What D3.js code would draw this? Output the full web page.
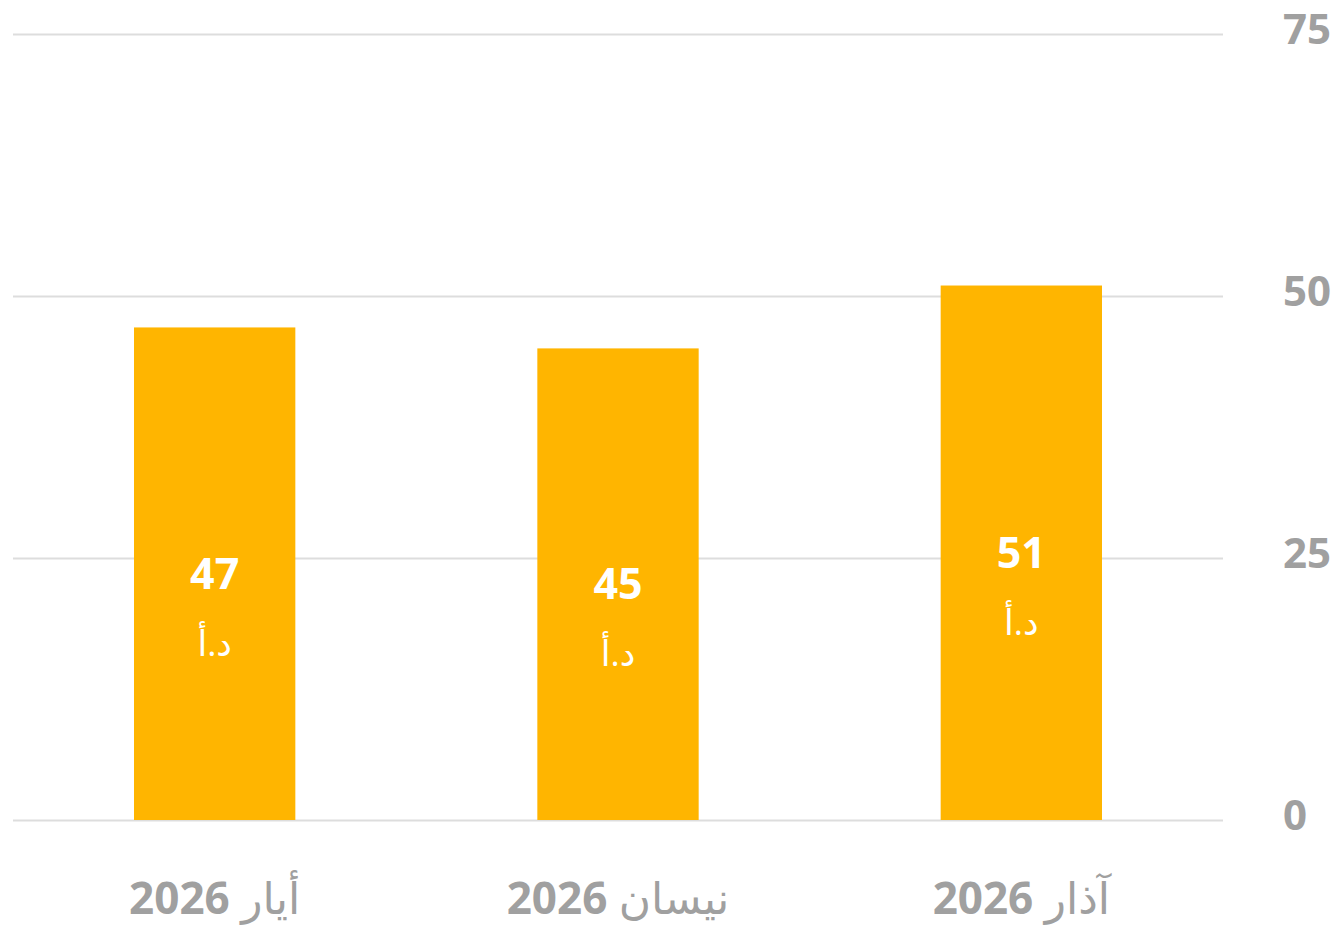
<!DOCTYPE html>
<html lang="ar">
<head>
<meta charset="utf-8">
<script src="https://cdn.jsdelivr.net/npm/d3@7"></script>
<style>
  body { margin: 0; background: #fff; }
  svg { display: block; font-family: "Open Sans", "Noto Sans", "DejaVu Sans", sans-serif; }
  .grid line { stroke: #dddddd; stroke-width: 2; }
  .grid path { display: none; }
</style>
</head>
<body>
<div id="chart"></div>
<script>
var w = 1340;
var h = 926;

// data, right-to-left order (first item is drawn on the right)
var months = ["آذار 2026", "نيسان 2026", "أيار 2026"];
var amounts = [51, 45, 47];
var currency = "د.أ";
var yTicks = [0, 25, 50, 75];

var plotLeft = 13, plotRight = 1223, plotTop = 34, plotBottom = 820;

var svg = d3.select("#chart")
    .append("svg")
    .attr("width", w)
    .attr("height", h);

var xScale = d3.scaleBand()
    .domain(months)
    .range([plotRight, plotLeft])
    .paddingInner(0.6)
    .paddingOuter(0.3);

var yScale = d3.scaleLinear()
    .domain([0, 75])
    .range([plotBottom, plotTop]);

// gridlines
svg.append("g")
    .attr("class", "grid")
    .attr("transform", "translate(" + plotLeft + ",0)")
    .call(d3.axisRight(yScale).tickValues(yTicks).tickSize(plotRight - plotLeft).tickFormat(""));

// y tick labels on the right
svg.append("g")
    .selectAll("text")
    .data(yTicks)
    .enter().append("text")
    .attr("x", 1283)
    .attr("y", function(d) { return yScale(d) + 10; })
    .attr("fill", "#a0a0a0")
    .attr("font-size", 42)
    .attr("font-weight", "bold")
    .text(function(d) { return d; });

var data = months.map(function(m, i) { return { month: m, value: amounts[i] }; });

svg.append("g")
    .selectAll("rect")
    .data(data)
    .enter().append("rect")
    .attr("x", function(d) { return xScale(d.month); })
    .attr("y", function(d) { return yScale(d.value); })
    .attr("width", xScale.bandwidth())
    .attr("height", function(d) { return yScale(0) - yScale(d.value); })
    .attr("fill", "#ffb500");

var labels = svg.append("g")
    .selectAll("g")
    .data(data)
    .enter().append("g")
    .attr("transform", function(d) {
        var cx = xScale(d.month) + xScale.bandwidth() / 2;
        var cy = (yScale(d.value) + yScale(0)) / 2;
        return "translate(" + cx + "," + cy + ")";
    });

labels.append("text")
    .attr("text-anchor", "middle")
    .attr("y", 15)
    .attr("fill", "#fff")
    .attr("font-size", 43)
    .attr("font-weight", "bold")
    .text(function(d) { return d.value; });

labels.append("text")
    .attr("text-anchor", "middle")
    .attr("direction", "rtl")
    .attr("y", 82)
    .attr("fill", "#fff")
    .attr("font-size", 35)
    .text(currency);

// x labels: month name in normal weight, year in bold
var xl = svg.append("g")
    .selectAll("text")
    .data(months)
    .enter().append("text")
    .attr("x", function(d) { return xScale(d) + xScale.bandwidth() / 2; })
    .attr("y", 914)
    .attr("text-anchor", "middle")
    .attr("direction", "rtl")
    .attr("fill", "#a0a0a0")
    .attr("font-size", 44);

xl.append("tspan")
    .attr("font-weight", "normal")
    .text(function(d) { return d.split(" ")[0] + " "; });

xl.append("tspan")
    .attr("font-weight", "bold")
    .text(function(d) { return d.split(" ")[1]; });
</script>
</body>
</html>
